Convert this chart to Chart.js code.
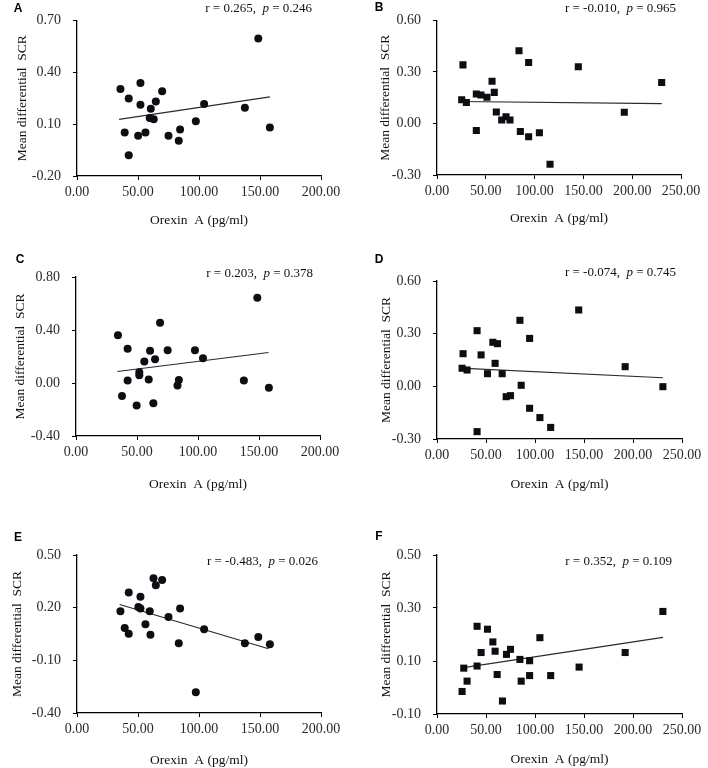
<!DOCTYPE html>
<html><head><meta charset="utf-8">
<script src="https://cdn.jsdelivr.net/npm/chart.js@4.4.1/dist/chart.umd.min.js"></script>
<style>
html,body{margin:0;padding:0;background:#fff;}
#wrap{position:relative;width:708px;height:768px;overflow:hidden;}
canvas{position:absolute;}
.lbl{position:absolute;font:bold 12px "Liberation Sans",Arial,sans-serif;color:#000;line-height:14px;transform:translate(-50%,-50%);}
.note{position:absolute;font:13px "Liberation Serif","Times New Roman",serif;color:#111;line-height:16px;white-space:pre;transform:translate(-100%,-50%);}
</style></head><body>
<div id="wrap">
<canvas id="cA" width="354" height="256" style="left:0;top:0"></canvas>
<canvas id="cB" width="354" height="256" style="left:354px;top:0"></canvas>
<canvas id="cC" width="354" height="256" style="left:0;top:256px"></canvas>
<canvas id="cD" width="354" height="256" style="left:354px;top:256px"></canvas>
<canvas id="cE" width="354" height="256" style="left:0;top:512px"></canvas>
<canvas id="cF" width="354" height="256" style="left:354px;top:512px"></canvas>
</div>
<script>
// ---------- data ----------
const xTitle = "Orexin  A (pg/ml)";
const yTitle = "Mean differential  SCR";

const xTicksACE = [0, 50, 100, 150, 200];
const xTicksBDF = [0, 50, 100, 150, 200, 250];
const yTicksA = [-0.20, 0.10, 0.40, 0.70];
const yTicksB = [-0.30, 0.00, 0.30, 0.60];
const yTicksC = [-0.40, 0.00, 0.40, 0.80];
const yTicksD = [-0.30, 0.00, 0.30, 0.60];
const yTicksE = [-0.40, -0.10, 0.20, 0.50];
const yTicksF = [-0.10, 0.10, 0.30, 0.50];

const aOrexin = [35.6, 52.0, 42.4, 69.8, 64.6, 52.0, 60.5, 59.6, 62.9, 39.1, 50.1, 56.1, 42.4, 75.0, 83.4, 84.5, 97.4, 104.2, 137.6, 148.6, 158.1];
const aSCR    = [0.303, 0.338, 0.248, 0.290, 0.231, 0.212, 0.189, 0.136, 0.128, 0.052, 0.033, 0.052, -0.080, 0.033, 0.004, 0.069, 0.116, 0.216, 0.195, 0.595, 0.080];
const aFitX = [34.5, 158.1];
const aFitY = [0.128, 0.258];
const aNote = ["0.265", "0.246"];

const bOrexin = [26.6, 25.3, 30.1, 40.3, 45.1, 51.2, 56.4, 58.7, 60.8, 66.3, 70.7, 74.8, 40.3, 84.0, 93.9, 85.4, 93.9, 104.9, 115.8, 144.8, 191.9, 230.2];
const bSCR    = [0.341, 0.138, 0.122, 0.172, 0.166, 0.153, 0.246, 0.181, 0.067, 0.020, 0.039, 0.020, -0.041, 0.423, 0.355, -0.047, -0.077, -0.054, -0.237, 0.330, 0.065, 0.239];
const bFitX = [22.2, 230.2];
const bFitY = [0.128, 0.115];
const bNote = ["-0.010", "0.965"];

const cOrexin = [34.4, 68.9, 42.3, 60.7, 75.1, 97.5, 104.1, 56.0, 64.8, 51.9, 51.9, 42.3, 59.6, 84.3, 83.2, 37.7, 49.7, 63.4, 137.6, 148.6, 158.1];
const cSCR    = [0.361, 0.454, 0.258, 0.243, 0.248, 0.248, 0.187, 0.162, 0.180, 0.082, 0.059, 0.019, 0.027, 0.022, -0.018, -0.099, -0.169, -0.152, 0.019, 0.644, -0.036];
const cFitX = [34.0, 157.8];
const cFitY = [0.087, 0.230];
const cNote = ["0.203", "0.378"];

const dOrexin = [26.6, 25.6, 30.7, 40.9, 45.0, 40.9, 51.5, 57.0, 61.7, 59.3, 66.5, 70.6, 75.0, 84.6, 85.9, 94.5, 94.5, 105.0, 116.0, 144.6, 192.0, 230.5];
const dSCR    = [0.186, 0.103, 0.093, 0.317, 0.179, -0.258, 0.072, 0.251, 0.243, 0.131, 0.072, -0.059, -0.053, 0.376, 0.006, 0.273, -0.125, -0.178, -0.234, 0.435, 0.112, -0.002];
const dFitX = [23.2, 230.6];
const dFitY = [0.104, 0.049];
const dNote = ["-0.074", "0.745"];

const eOrexin = [35.6, 42.4, 52.0, 50.3, 52.0, 59.6, 62.7, 64.6, 69.8, 75.0, 84.5, 39.1, 42.4, 56.1, 60.2, 83.4, 104.2, 97.4, 137.6, 148.6, 158.1];
const eSCR    = [0.180, 0.286, 0.262, 0.204, 0.195, 0.180, 0.367, 0.328, 0.357, 0.147, 0.195, 0.084, 0.052, 0.105, 0.046, -0.002, 0.077, -0.282, -0.002, 0.033, -0.009];
const eFitX = [35.0, 157.0];
const eFitY = [0.218, -0.034];
const eNote = ["-0.483", "0.026"];

const fOrexin = [25.6, 27.3, 30.7, 40.9, 40.9, 45.0, 51.5, 57.0, 59.3, 61.4, 66.8, 70.9, 75.0, 84.6, 85.9, 94.5, 94.5, 105.0, 116.0, 145.0, 192.0, 230.5];
const fSCR    = [-0.015, 0.073, 0.024, 0.231, 0.081, 0.132, 0.220, 0.172, 0.137, 0.049, -0.051, 0.125, 0.144, 0.106, 0.024, 0.101, 0.045, 0.188, 0.045, 0.077, 0.132, 0.287];
const fFitX = [25.6, 230.6];
const fFitY = [0.074, 0.189];
const fNote = ["0.352", "0.109"];

// ---------- layout (local canvas coordinates) ----------
const panels = [
  {letter:'A', canvas:'cA', ox:0,   oy:0,   x:aOrexin, y:aSCR, fx:aFitX, fy:aFitY, note:aNote, xt:xTicksACE, yt:yTicksA, marker:'circle',
   area:{left:77, top:18, right:321, bottom:176}, yTitleX:22, xTitleY:220, L:[18,8], N:[312,8]},
  {letter:'B', canvas:'cB', ox:354, oy:0,   x:bOrexin, y:bSCR, fx:bFitX, fy:bFitY, note:bNote, xt:xTicksBDF, yt:yTicksB, marker:'rect',
   area:{left:83, top:17, right:327, bottom:175}, yTitleX:31, xTitleY:218, L:[25,7], N:[322,8]},
  {letter:'C', canvas:'cC', ox:0,   oy:256, x:cOrexin, y:cSCR, fx:cFitX, fy:cFitY, note:cNote, xt:xTicksACE, yt:yTicksC, marker:'circle',
   area:{left:76, top:21, right:320, bottom:180}, yTitleX:20, xTitleY:228, L:[20,2.5], N:[313,16.5]},
  {letter:'D', canvas:'cD', ox:354, oy:256, x:dOrexin, y:dSCR, fx:dFitX, fy:dFitY, note:dNote, xt:xTicksBDF, yt:yTicksD, marker:'rect',
   area:{left:83, top:25, right:328, bottom:183}, yTitleX:32, xTitleY:228, L:[25,2.5], N:[322,16]},
  {letter:'E', canvas:'cE', ox:0,   oy:512, x:eOrexin, y:eSCR, fx:eFitX, fy:eFitY, note:eNote, xt:xTicksACE, yt:yTicksE, marker:'circle',
   area:{left:77, top:43, right:321, bottom:201}, yTitleX:17, xTitleY:248, L:[18,25], N:[318,49]},
  {letter:'F', canvas:'cF', ox:354, oy:512, x:fOrexin, y:fSCR, fx:fFitX, fy:fFitY, note:fNote, xt:xTicksBDF, yt:yTicksF, marker:'rect',
   area:{left:83, top:43, right:328, bottom:202}, yTitleX:32, xTitleY:247, L:[25,24], N:[318,49]}
];

const W = 354, H = 256;
const serif = '"Liberation Serif","Times New Roman",serif';
const tickFont = {family: serif, size: 14, lineHeight: 1.2};
const titleFont = {family: serif, size: 13.5, lineHeight: 1.2};
const titleLH = 13.5 * 1.2;
const wrap = document.getElementById('wrap');

panels.forEach(p => {
  new Chart(document.getElementById(p.canvas), {
    type: 'scatter',
    data: {
      datasets: [
        {
          data: p.x.map((v, i) => ({x: v, y: p.y[i]})),
          pointStyle: p.marker,
          pointRadius: p.marker === 'rect' ? 5 : 4,
          pointHoverRadius: p.marker === 'rect' ? 5 : 4,
          backgroundColor: '#0d0d14',
          borderColor: '#0d0d14',
          borderWidth: 0,
          order: 0
        },
        {
          type: 'line',
          data: p.fx.map((v, i) => ({x: v, y: p.fy[i]})),
          borderColor: '#2a2a2a',
          borderWidth: 1.2,
          pointRadius: 0,
          fill: false,
          tension: 0,
          order: 1
        }
      ]
    },
    options: {
      responsive: false,
      animation: false,
      devicePixelRatio: 1,
      events: [],
      layout: {padding: {left: 0, top: p.area.top, right: W - p.area.right, bottom: 0}},
      plugins: {legend: {display: false}, tooltip: {enabled: false}},
      scales: {
        x: {
          type: 'linear',
          min: p.xt[0], max: p.xt[p.xt.length - 1],
          afterBuildTicks: s => { s.ticks = p.xt.map(v => ({value: v})); },
          afterFit: s => { s.height = H - p.area.bottom; },
          ticks: {callback: v => Number(v).toFixed(2), font: tickFont, color: '#2a2a2a', padding: 3.5, maxRotation: 0, autoSkip: false},
          grid: {display: true, drawOnChartArea: false, drawTicks: true, tickLength: 4, color: '#000', lineWidth: 1},
          border: {display: true, color: '#000', width: 1.3},
          title: {display: true, text: xTitle, font: titleFont, color: '#111',
                  padding: {top: 0, bottom: H - p.xTitleY - titleLH / 2}}
        },
        y: {
          type: 'linear',
          min: p.yt[0], max: p.yt[p.yt.length - 1],
          afterBuildTicks: s => { s.ticks = p.yt.map(v => ({value: v})); },
          afterFit: s => { s.width = p.area.left; },
          ticks: {callback: v => Number(v).toFixed(2), font: tickFont, color: '#2a2a2a', padding: 12, autoSkip: false},
          grid: {display: true, drawOnChartArea: false, drawTicks: true, tickLength: 4, color: '#000', lineWidth: 1},
          border: {display: true, color: '#000', width: 1.3},
          title: {display: true, text: yTitle, font: titleFont, color: '#111',
                  padding: {top: p.yTitleX - titleLH / 2, bottom: 0}}
        }
      }
    }
  });

  const lab = document.createElement('div');
  lab.className = 'lbl';
  lab.textContent = p.letter;
  lab.style.left = (p.ox + p.L[0]) + 'px';
  lab.style.top = (p.oy + p.L[1]) + 'px';
  wrap.appendChild(lab);

  const note = document.createElement('div');
  note.className = 'note';
  note.innerHTML = 'r = ' + p.note[0] + ',  <i>p</i> = ' + p.note[1];
  note.style.left = (p.ox + p.N[0]) + 'px';
  note.style.top = (p.oy + p.N[1]) + 'px';
  wrap.appendChild(note);
});
</script>
</body></html>
